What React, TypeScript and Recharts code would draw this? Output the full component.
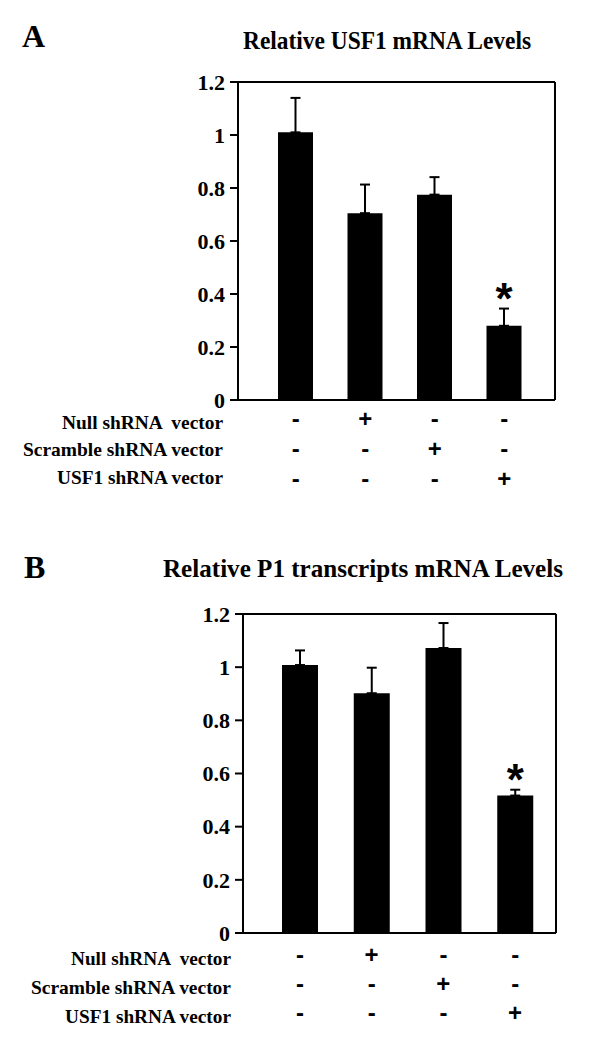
import React from 'react';
import { BarChart, Bar, XAxis, YAxis, ErrorBar, LabelList, CartesianGrid } from 'recharts';

const groups = ['Control', 'Null', 'Scramble', 'USF1'];
const nullRow = ['-', '+', '-', '-'];
const scrambleRow = ['-', '-', '+', '-'];
const usf1Row = ['-', '-', '-', '+'];
const rowLabels = ['Null shRNA  vector', 'Scramble shRNA vector', 'USF1 shRNA vector'];
const yTicks = [0, 0.2, 0.4, 0.6, 0.8, 1, 1.2];
const stars = ['', '', '', '*'];

// panel A: relative USF1 mRNA
const usf1Mean = [1.01, 0.705, 0.775, 0.28];
const usf1Err = [0.13, 0.108, 0.066, 0.065];

// panel B: relative P1 transcripts mRNA
const p1Mean = [1.008, 0.902, 1.072, 0.517];
const p1Err = [0.055, 0.096, 0.094, 0.022];

const serif = "'Liberation Serif', 'Times New Roman', serif";
const sans = "'Liberation Sans', Arial, sans-serif";

function makeRows(mean: number[], err: number[]) {
  return groups.map((g, i) => ({
    group: g,
    mean: mean[i],
    err: [0, err[i]],
    star: stars[i],
  }));
}

type PanelProps = {
  mean: number[];
  err: number[];
  top: number;
  height: number;
  margin: { top: number; right: number; bottom: number; left: number };
  pad: { left: number; right: number };
  barSize: number;
  markOffsets: number[];
};

function Panel(props: PanelProps) {
  const data = makeRows(props.mean, props.err);
  const axisLine = { stroke: '#000', strokeWidth: 2 };

  const markTick = (p: any) => {
    const i = groups.indexOf(p.payload.value);
    const marks = [nullRow[i], scrambleRow[i], usf1Row[i]];
    return (
      <g>
        {marks.map((m, r) => (
          <text
            key={r}
            x={p.x}
            y={p.y + props.markOffsets[r]}
            textAnchor="middle"
            fontFamily={sans}
            fontWeight="bold"
            fontSize={24}
            fill="#000"
          >
            {m}
          </text>
        ))}
      </g>
    );
  };

  const starLabel = (p: any) => {
    if (!p.value) return null;
    const i = p.index;
    const pxPerUnit = p.height / props.mean[i];
    const errTop = p.y - props.err[i] * pxPerUnit;
    return (
      <text
        x={p.x + p.width / 2}
        y={errTop + 5}
        textAnchor="middle"
        fontFamily={sans}
        fontWeight="bold"
        fontSize={44}
        fill="#000"
      >
        {p.value}
      </text>
    );
  };

  return (
    <div style={{ position: 'absolute', left: 0, top: props.top }}>
      <BarChart width={600} height={props.height} data={data} margin={props.margin}>
        {/* top and right edges of the box */}
        <CartesianGrid
          stroke="#000"
          strokeWidth={2}
          horizontalCoordinatesGenerator={({ offset }: any) => [offset.top]}
          verticalCoordinatesGenerator={({ offset }: any) => [offset.left + offset.width]}
        />
        <XAxis
          dataKey="group"
          height={100}
          padding={props.pad}
          axisLine={axisLine}
          tickLine={false}
          tickSize={0}
          tickMargin={0}
          interval={0}
          tick={markTick}
        />
        <YAxis
          domain={[0, 1.2]}
          ticks={yTicks}
          interval={0}
          width={60}
          axisLine={axisLine}
          tickLine={{ stroke: '#000', strokeWidth: 2 }}
          tickSize={8}
          tickMargin={5}
          tick={{ fill: '#000', fontSize: 22, fontWeight: 'bold', fontFamily: serif }}
        />
        <Bar dataKey="mean" fill="#000" barSize={props.barSize} isAnimationActive={false}>
          <ErrorBar dataKey="err" direction="y" width={5} stroke="#000" strokeWidth={2} />
          <LabelList dataKey="star" content={starLabel} />
        </Bar>
      </BarChart>
    </div>
  );
}

export default function App() {
  return (
    <div
      style={{
        position: 'absolute',
        left: 0,
        top: 0,
        width: 600,
        height: 1047,
        background: '#fff',
        overflow: 'hidden',
      }}
    >
      <Panel
        mean={usf1Mean}
        err={usf1Err}
        top={0}
        height={500}
        margin={{ top: 82, right: 45, bottom: 0, left: 178 }}
        pad={{ left: 23, right: 16 }}
        barSize={35}
        markOffsets={[27, 57, 87]}
      />
      <Panel
        mean={p1Mean}
        err={p1Err}
        top={530}
        height={517}
        margin={{ top: 84, right: 44, bottom: 14, left: 183 }}
        pad={{ left: 21, right: 5 }}
        barSize={36}
        markOffsets={[30, 59, 88]}
      />
      <svg
        width={600}
        height={1047}
        style={{ position: 'absolute', left: 0, top: 0, pointerEvents: 'none' }}
      >
        <g fontFamily={serif} fontWeight="bold" fill="#000">
          <text x={22} y={47} fontSize={32}>A</text>
          <text x={243} y={49} fontSize={25} textLength={288} lengthAdjust="spacingAndGlyphs">
            Relative USF1 mRNA Levels
          </text>
          {rowLabels.map((t, r) => (
            <text key={'a' + r} x={223} y={[429, 456, 484][r]} fontSize={19} textAnchor="end" textLength={[161, 200, 166][r]} lengthAdjust="spacingAndGlyphs" xmlSpace="preserve">
              {t}
            </text>
          ))}
          <text x={24} y={578} fontSize={32}>B</text>
          <text x={163} y={577} fontSize={25} textLength={400} lengthAdjust="spacingAndGlyphs">
            Relative P1 transcripts mRNA Levels
          </text>
          {rowLabels.map((t, r) => (
            <text key={'b' + r} x={231} y={[965, 994, 1023][r]} fontSize={19} textAnchor="end" textLength={[160, 200, 166][r]} lengthAdjust="spacingAndGlyphs" xmlSpace="preserve">
              {t}
            </text>
          ))}
        </g>
      </svg>
    </div>
  );
}
